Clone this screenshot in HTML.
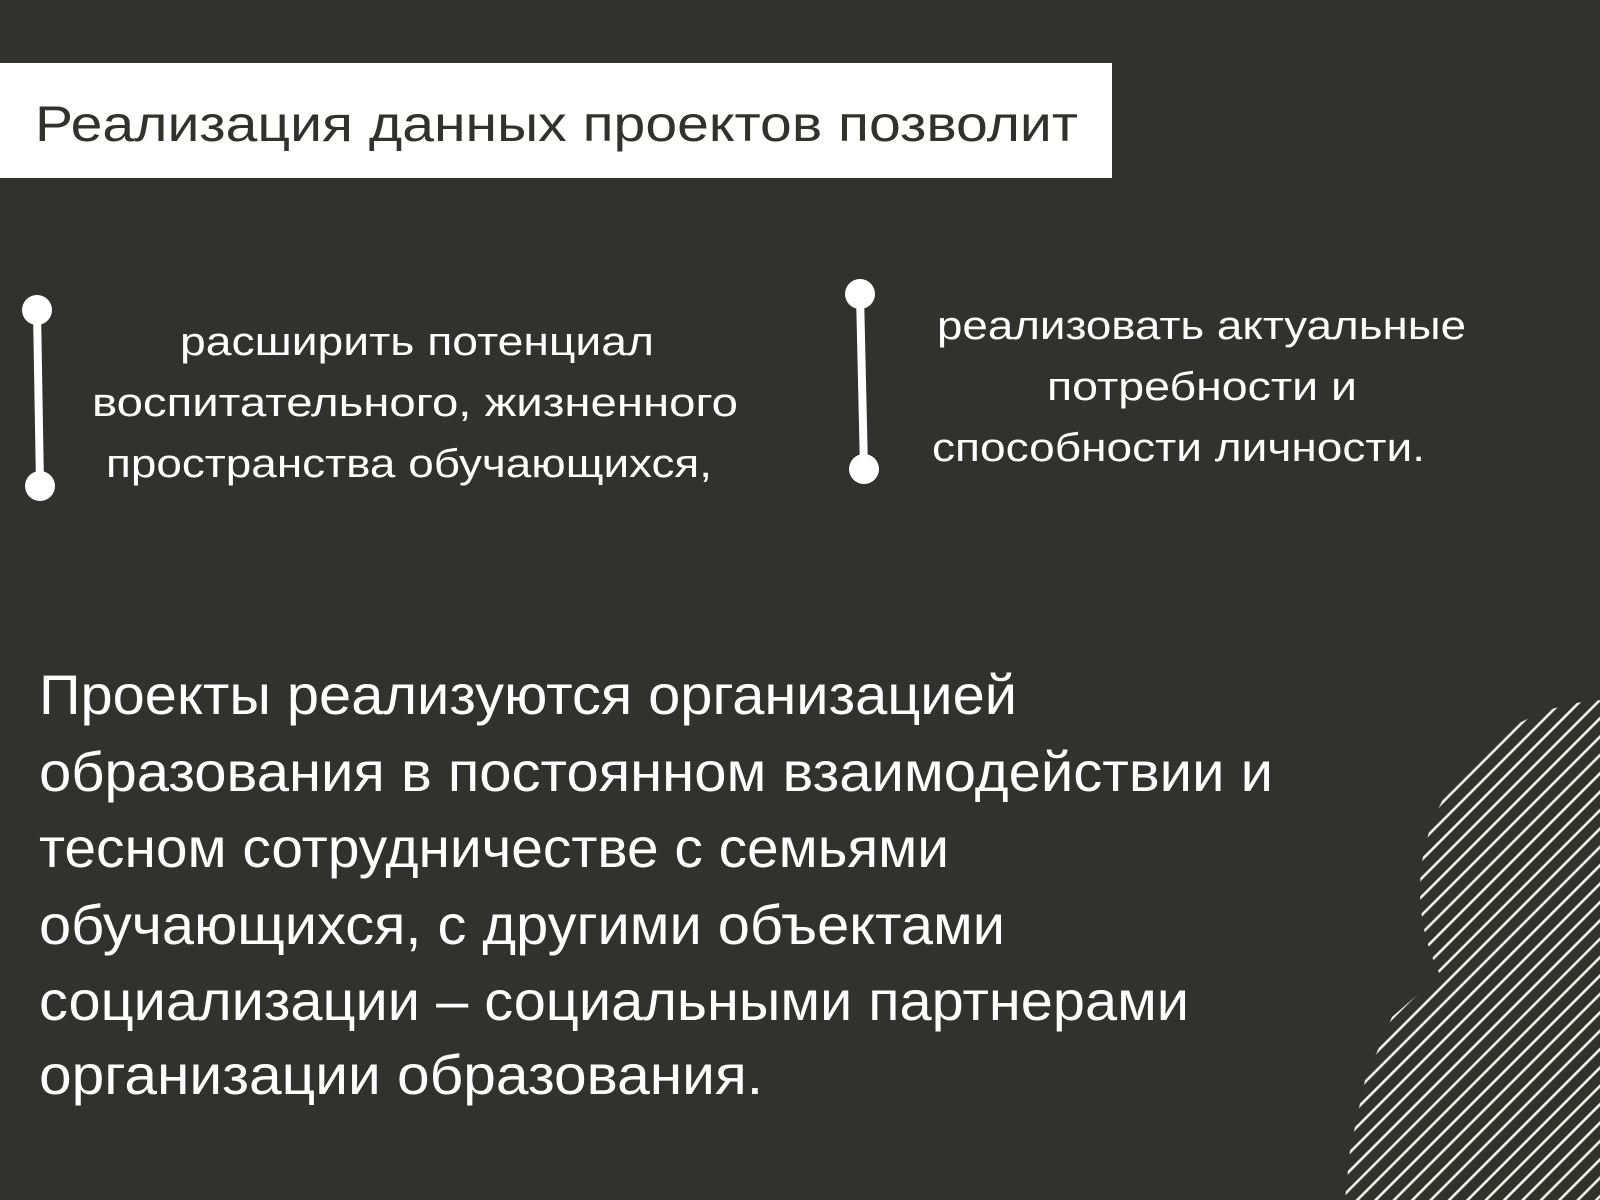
<!DOCTYPE html>
<html><head><meta charset="utf-8"><style>
html,body{margin:0;padding:0;background:#31312d;}
svg{display:block}
text{font-family:"Liberation Sans","DejaVu Sans",sans-serif;}
</style></head><body>
<svg width="1600" height="1200" viewBox="0 0 1600 1200" xmlns="http://www.w3.org/2000/svg">
<defs>
<pattern id="h" patternUnits="userSpaceOnUse" width="13" height="13" patternTransform="rotate(45)">
<rect x="0" y="0" width="2.6" height="13" fill="#f4f3ee"/>
</pattern>
<clipPath id="c">
<circle cx="1610" cy="890" r="190"/>
<path d="M1600 905 L1520 930 L1440 975 L1392 1017 L1365 1080 L1350 1150 L1345 1200 L1600 1200 Z"/>
</clipPath>
</defs>
<rect width="1600" height="1200" fill="#31312d"/>
<rect x="0" y="63" width="1112" height="115" fill="#ffffff"/>
<text x="35" y="141" font-size="50" fill="#31312d" textLength="1043" lengthAdjust="spacingAndGlyphs">Реализация данных проектов позволит</text>

<g stroke="#fff" stroke-width="8"><line x1="37" y1="310" x2="40" y2="486"/><line x1="860" y1="294" x2="864" y2="469"/></g>
<g fill="#fff"><circle cx="37" cy="310" r="15"/><circle cx="40" cy="486" r="15"/><circle cx="860" cy="294" r="15"/><circle cx="864" cy="469" r="15"/></g>

<g fill="#fff" font-size="40">
<text x="180" y="355" textLength="474" lengthAdjust="spacingAndGlyphs">расширить потенциал</text>
<text x="92" y="416" textLength="646" lengthAdjust="spacingAndGlyphs">воспитательного, жизненного</text>
<text x="106" y="477" textLength="606" lengthAdjust="spacingAndGlyphs">пространства обучающихся,</text>
<text x="937" y="339" textLength="529" lengthAdjust="spacingAndGlyphs">реализовать актуальные</text>
<text x="1047" y="400" textLength="310" lengthAdjust="spacingAndGlyphs">потребности и</text>
<text x="932" y="461" textLength="493" lengthAdjust="spacingAndGlyphs">способности личности.</text>
</g>

<g fill="#fff" font-size="56">
<text x="39" y="714" textLength="978" lengthAdjust="spacingAndGlyphs">Проекты реализуются организацией</text>
<text x="39" y="791" textLength="1234" lengthAdjust="spacingAndGlyphs">образования в постоянном взаимодействии и</text>
<text x="39" y="867" textLength="910" lengthAdjust="spacingAndGlyphs">тесном сотрудничестве с семьями</text>
<text x="39" y="944" textLength="966" lengthAdjust="spacingAndGlyphs">обучающихся, с другими объектами</text>
<text x="39" y="1020" textLength="1150" lengthAdjust="spacingAndGlyphs">социализации – социальными партнерами</text>
<text x="39" y="1094" textLength="724" lengthAdjust="spacingAndGlyphs">организации образования.</text>
</g>

<rect x="1300" y="680" width="300" height="520" fill="url(#h)" clip-path="url(#c)"/>
</svg>
</body></html>
